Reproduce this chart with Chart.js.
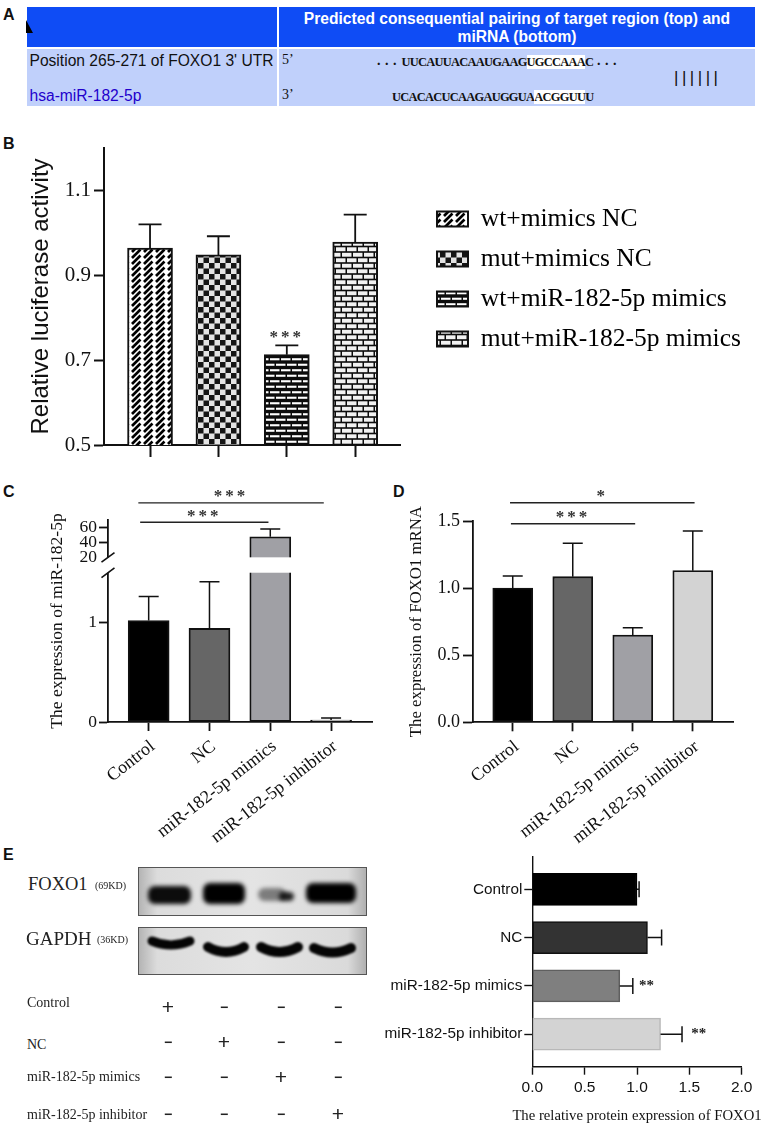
<!DOCTYPE html>
<html>
<head>
<meta charset="utf-8">
<title>FOXO1 / miR-182-5p</title>
<script src="https://cdn.jsdelivr.net/npm/chart.js@4/dist/chart.umd.min.js"></script>
<style>
  html, body { margin: 0; padding: 0; background: #fff; }
  #page { position: relative; width: 765px; height: 1128px; overflow: hidden; font-family: "Liberation Serif", serif; }
  #page canvas { position: absolute; }
  .t { position: absolute; white-space: nowrap; line-height: 1; }
  .letter { font: bold 16px "Liberation Sans", sans-serif; color: #111; }
  .band { position: absolute; }
  .sans { font-family: "Liberation Sans", sans-serif; }
  .seq { font: bold 12.4px "Liberation Serif", serif; letter-spacing: -0.7px; color: #111; }
  .dots { font: bold 14px "Liberation Serif", serif; letter-spacing: 4.5px; color: #111; }
  .seq span { background: #fff; }
  .blot { border: 1px solid #555; box-sizing: border-box; }
</style>
</head>
<body>
<div id="page">
  <!-- panel A -->
  <div class="t letter" style="left:3px;top:6px">A</div>
  <div class="band" style="left:26.5px;top:7px;width:250px;height:40px;background:#0f4cf5"></div>
  <div class="band" style="left:279px;top:7px;width:476px;height:40px;background:#0f4cf5"></div>
  <div class="band" style="left:26.5px;top:49px;width:250px;height:57px;background:#c0d0fb"></div>
  <div class="band" style="left:279px;top:49px;width:476px;height:57px;background:#c0d0fb"></div>
  <div class="band" style="left:26px;top:20px;width:0;height:0;border-bottom:13px solid #000;border-right:7px solid transparent"></div>
  <div class="t sans" style="left:279px;width:476px;top:10px;text-align:center;color:#fff;font-weight:bold;font-size:15.6px;line-height:18px;white-space:normal">Predicted consequential pairing of target region (top) and<br>miRNA (bottom)</div>
  <div class="t sans" style="left:29.5px;top:52.5px;font-size:15.6px;color:#111">Position 265-271 of FOXO1 3' UTR</div>
  <div class="t sans" style="left:29.5px;top:87.5px;font-size:15.6px;color:#2200cc">hsa-miR-182-5p</div>
  <div class="t" style="left:282px;top:53px;font-size:14px;color:#111">5’</div>
  <div class="t" style="left:282px;top:88px;font-size:14px;color:#111">3’</div>
  <div class="t dots" style="left:377px;top:53px">...</div>
  <div class="t seq" style="left:401.5px;top:55px">UUCAUUACAAUGAAG<span>UGCCAAA</span>C</div>
  <div class="t dots" style="left:597px;top:53px">...</div>
  <div class="t seq" style="left:392px;top:90px">UCACACUCAAGAUGGUA<span>ACGGUU</span>U</div>
  <div class="t" style="left:674px;top:69px;font-size:17px;letter-spacing:3.5px;font-family:'Liberation Sans';color:#111">||||||</div>

  <div class="t letter" style="left:3px;top:135px">B</div>
  <div class="t letter" style="left:3px;top:483px">C</div>
  <div class="t letter" style="left:393px;top:483px">D</div>
  <div class="t letter" style="left:3px;top:846px">E</div>

  <canvas id="chartB" style="left:0;top:120px" width="765" height="345"></canvas>
  <canvas id="chartC" style="left:0;top:480px" width="385" height="375"></canvas>
  <canvas id="chartD" style="left:385px;top:480px" width="380" height="375"></canvas>
  <canvas id="chartE" style="left:380px;top:830px" width="385" height="298"></canvas>
  <div class="t" style="left:380px;width:514px;top:1108px;font-size:14.7px;color:#111;text-align:center">The relative protein expression of FOXO1</div>

  <!-- panel E, blot -->
  <canvas id="blotFoxo" class="blot" style="left:138px;top:867px" width="227" height="47"></canvas>
  <canvas id="blotGapdh" class="blot" style="left:138px;top:927px" width="227" height="46"></canvas>
  <div class="t" style="left:28px;top:875px;font-size:18.5px;color:#222">FOXO1</div>
  <div class="t" style="left:95px;top:881px;font-size:10px;color:#222">(69KD)</div>
  <div class="t" style="left:26px;top:929px;font-size:19px;color:#222">GAPDH</div>
  <div class="t" style="left:97px;top:935px;font-size:10px;color:#222">(36KD)</div>
  <div id="matrix"></div>
</div>

<script>
const serif = "'Liberation Serif', serif";
const sans = "'Liberation Sans', sans-serif";

// panel B
const lucCategories = ["wt+mimics NC", "mut+mimics NC", "wt+miR-182-5p mimics", "mut+miR-182-5p mimics"];
const lucValues = [0.964, 0.948, 0.713, 0.978];
const lucErrors = [1.02, 0.992, 0.735, 1.043];
const lucTicks = [0.5, 0.7, 0.9, 1.1];

// panel C
const groups = ["Control", "NC", "miR-182-5p mimics", "miR-182-5p inhibitor"];
const mirValues = [1.02, 0.94, 47.5, 0.02];
const mirErrors = [1.26, 1.41, 58, 0.04];
const mirTicks = [0, 1, 20, 40, 60];

// panel D
const mrnaValues = [1.0, 1.085, 0.65, 1.13];
const mrnaErrors = [1.09, 1.335, 0.705, 1.425];
const mrnaTicks = [0, 0.5, 1, 1.5];

// panel E
const proteinValues = [1.0, 1.1, 0.835, 1.225];
const proteinErrors = [1.02, 1.235, 0.96, 1.43];
const proteinTicks = [0, 0.5, 1, 1.5, 2];

const grays = ["#000000", "#666666", "#a0a0a5", "#d3d3d3"];
const proteinGrays = ["#000000", "#333333", "#7f7f7f", "#d3d3d3"];
const proteinBorders = ["#000000", "#111111", "#5f5f5f", "#b8b8b8"];

// significance lines: from / to in group positions, value on the y axis
const lucSig = [{ from: 3, to: 3, value: 0.735, label: "***" }];
const mirSig = [
  { from: 0.86, to: 2.97, value: 67, label: "***" },
  { from: 0.83, to: 3.88, value: 93, label: "***" },
];
const mrnaSig = [
  { from: 0.97, to: 3.04, value: 1.48, label: "***" },
  { from: 0.955, to: 4.03, value: 1.636, label: "*" },
];
const proteinStars = [
  { x: 1.09, row: 3, label: "**" },
  { x: 1.59, row: 4, label: "**" },
];

// blot table, true = "+"
const matrixRows = ["Control", "NC", "miR-182-5p mimics", "miR-182-5p inhibitor"];
const matrixSigns = [
  [true, false, false, false],
  [false, true, false, false],
  [false, false, true, false],
  [false, false, false, true],
];

function crearPatron(w, h, dibujar) {
  const c = document.createElement("canvas");
  c.width = w;
  c.height = h;
  dibujar(c.getContext("2d"));
  return c.getContext("2d").createPattern(c, "repeat");
}

function ladrillos(ctx, alto, color) {
  ctx.fillStyle = "#0c0c0c";
  ctx.fillRect(0, 0, 22, 11);
  ctx.fillStyle = color;
  const y1 = (5.5 - alto) / 2;
  ctx.fillRect(1, y1, 9.5, alto);
  ctx.fillRect(12, y1, 9.5, alto);
  ctx.fillRect(0, y1 + 5.5, 4.5, alto);
  ctx.fillRect(6, y1 + 5.5, 9.5, alto);
  ctx.fillRect(17, y1 + 5.5, 5, alto);
}

const patterns = [
  crearPatron(12, 12, (ctx) => {
    ctx.fillStyle = "#fff";
    ctx.fillRect(0, 0, 12, 12);
    ctx.strokeStyle = "#000";
    ctx.lineWidth = 2.7;
    ctx.setLineDash([12, 4.97]);
    [-12, -6, 0, 6, 12].forEach((c, i) => {
      ctx.lineDashOffset = i % 2 ? 8.5 : 0;
      ctx.beginPath();
      ctx.moveTo(-12 + c, 24);
      ctx.lineTo(24 + c, -12);
      ctx.stroke();
    });
  }),
  crearPatron(11, 11, (ctx) => {
    ctx.fillStyle = "#e4e4e4";
    ctx.fillRect(0, 0, 11, 11);
    ctx.fillStyle = "#151515";
    ctx.fillRect(0, 0, 5.5, 5.5);
    ctx.fillRect(5.5, 5.5, 5.5, 5.5);
  }),
  crearPatron(22, 11, (ctx) => ladrillos(ctx, 2.1, "#ffffff")),
  crearPatron(22, 11, (ctx) => ladrillos(ctx, 3.9, "#f2f2f2")),
];

function pluginErrores(errores, values, tapa, ancho, horizontal) {
  return {
    id: "errores",
    afterDatasetsDraw(chart) {
      const ctx = chart.ctx;
      const valueScale = horizontal ? chart.scales.x : chart.scales.y;
      const indexScale = horizontal ? chart.scales.y : chart.scales.x;
      ctx.save();
      ctx.strokeStyle = "#111";
      ctx.lineWidth = ancho;
      errores.forEach((err, i) => {
        const p = indexScale.getPixelForValue(i + 1);
        const a = valueScale.getPixelForValue(values[i]);
        const b = valueScale.getPixelForValue(err);
        ctx.beginPath();
        if (horizontal) {
          ctx.moveTo(a, p);
          ctx.lineTo(b, p);
          ctx.moveTo(b, p - tapa / 2);
          ctx.lineTo(b, p + tapa / 2);
        } else {
          ctx.moveTo(p, a);
          ctx.lineTo(p, b);
          ctx.moveTo(p - tapa / 2, b);
          ctx.lineTo(p + tapa / 2, b);
        }
        ctx.stroke();
      });
      ctx.restore();
    },
  };
}

function pluginSignificancia(lineas, fuente, subir) {
  return {
    id: "significancia",
    afterDraw(chart) {
      const ctx = chart.ctx;
      ctx.save();
      lineas.forEach((l) => {
        const y = chart.scales.y.getPixelForValue(l.value);
        const x1 = chart.scales.x.getPixelForValue(l.from);
        const x2 = chart.scales.x.getPixelForValue(l.to);
        if (l.from !== l.to) {
          ctx.strokeStyle = "#222";
          ctx.lineWidth = 1.4;
          ctx.beginPath();
          ctx.moveTo(x1, y);
          ctx.lineTo(x2, y);
          ctx.stroke();
        }
        ctx.fillStyle = "#333";
        ctx.font = fuente;
        ctx.letterSpacing = "3px";
        ctx.textAlign = "center";
        ctx.textBaseline = "middle";
        ctx.fillText(l.label, (x1 + x2) / 2, y - subir);
      });
      ctx.restore();
    },
  };
}

// y scale with a jump between lowMax and highMin
class BrokenScale extends Chart.LinearScale {
  getPixelForValue(value) {
    const { lowMax, highMin, lowPart, gapPart } = this.options.corte;
    let d;
    if (value <= lowMax) {
      d = (value / lowMax) * lowPart;
    } else if (value >= highMin) {
      d = lowPart + gapPart + ((value - highMin) / (this.max - highMin)) * (1 - lowPart - gapPart);
    } else {
      d = lowPart + ((value - lowMax) / (highMin - lowMax)) * gapPart;
    }
    return this.getPixelForDecimal(d);
  }
}
BrokenScale.id = "broken";
BrokenScale.defaults = {};
Chart.register(BrokenScale);

const pluginCorte = {
  id: "corte",
  afterDatasetsDraw(chart) {
    const ctx = chart.ctx;
    const y = chart.scales.y;
    const corte = y.options.corte;
    const yBajo = y.getPixelForValue(corte.lowMax);
    const yAlto = y.getPixelForValue(corte.highMin);
    const x0 = chart.chartArea.left;
    ctx.save();
    ctx.fillStyle = "#fff";
    ctx.fillRect(x0 - 2, yAlto, chart.chartArea.width, yBajo - yAlto);
    ctx.strokeStyle = "#111";
    ctx.lineWidth = 1.6;
    [yBajo, yAlto].forEach((py) => {
      ctx.beginPath();
      ctx.moveTo(x0 - 6.5, py + 4.8);
      ctx.lineTo(x0 + 6.5, py - 4.8);
      ctx.stroke();
    });
    ctx.restore();
  },
};

// the axes get a fixed box, so the plot area lands where the figure has it
function escalaBase(lineWidth, tickLength, tickFont, ticks, caja) {
  return {
    offset: false,
    border: { color: "#111", width: lineWidth },
    grid: { offset: false, drawOnChartArea: false, tickColor: "#111", tickWidth: lineWidth, tickLength },
    ticks: { color: "#111", font: tickFont, autoSkip: false },
    afterBuildTicks: (s) => {
      s.ticks = ticks.map((v) => ({ value: v }));
    },
    afterFit: caja,
  };
}

function graficoBarras(id, box, plot, cfg) {
  const indices = cfg.values.map((_, i) => i + 1);
  const xEscala = escalaBase(cfg.lineWidth, cfg.tickLength, cfg.xFont, indices, (s) => {
    s.height = box.bottom - plot.bottom;
  });
  xEscala.type = "linear";
  xEscala.min = cfg.xMin;
  xEscala.max = cfg.xMax;
  xEscala.ticks.padding = cfg.xPadding;
  if (cfg.xLabels) {
    xEscala.ticks.callback = (v) => cfg.xLabels[v - 1];
    xEscala.ticks.minRotation = cfg.rotation;
    xEscala.ticks.maxRotation = cfg.rotation;
    xEscala.ticks.labelOffset = 4;
  } else {
    xEscala.ticks.display = false;
  }

  const yEscala = escalaBase(cfg.lineWidth, cfg.yTickLength || cfg.tickLength, cfg.yFont, cfg.ticks, (s) => {
    s.width = plot.left - box.left;
  });
  yEscala.type = cfg.yType || "linear";
  yEscala.min = cfg.yMin;
  yEscala.max = cfg.yMax;
  yEscala.ticks.padding = cfg.yPadding;
  yEscala.ticks.callback = cfg.yFormat;
  yEscala.title = cfg.yTitle;
  if (cfg.corte) {
    yEscala.corte = cfg.corte;
    yEscala.grid.tickColor = (c) => (c.tick && c.tick.value === cfg.corte.highMin ? "rgba(0,0,0,0)" : "#111");
  }

  return new Chart(document.getElementById(id), {
    type: "bar",
    data: {
      datasets: [{
        data: cfg.values.map((v, i) => ({ x: i + 1, y: v })),
        backgroundColor: cfg.fills,
        borderColor: "#111",
        borderWidth: cfg.lineWidth,
        borderSkipped: false,
        barThickness: cfg.barWidth,
      }],
    },
    options: {
      responsive: false,
      animation: false,
      devicePixelRatio: 1,
      layout: {
        padding: { left: 0, top: plot.top - box.top, right: box.right - plot.right, bottom: 0 },
      },
      plugins: { legend: cfg.legend || { display: false }, tooltip: { enabled: false } },
      scales: { x: xEscala, y: yEscala },
    },
    plugins: cfg.plugins,
  });
}

// panel B keeps its legend to the right of the plot
const pluginLeyenda = {
  id: "leyendaB",
  afterLayout(chart) {
    const l = chart.legend;
    l.left = 422.5;
    l.right = 765;
    l.top = 59;
    l.bottom = 259;
  },
};

graficoBarras("chartB", { left: 0, top: 120, right: 765, bottom: 465 }, { left: 104, top: 148, right: 400, bottom: 445 }, {
  values: lucValues,
  fills: patterns,
  ticks: lucTicks,
  xMin: 0.327,
  xMax: 4.655,
  yMin: 0.5,
  yMax: 1.2,
  lineWidth: 2,
  tickLength: 12,
  yTickLength: 10,
  barWidth: 45,
  yFont: { family: serif, size: 21 },
  yPadding: 3,
  xPadding: 0,
  yFormat: (v) => v.toFixed(1),
  yTitle: { display: true, text: "Relative luciferase activity", color: "#111", font: { family: sans, size: 24 }, padding: { top: 27, bottom: 0 } },
  legend: {
    position: "chartArea",
    labels: {
      boxWidth: 31,
      boxHeight: 15,
      padding: 14.5,
      color: "#111",
      font: { family: serif, size: 25.5 },
      generateLabels: () => lucCategories.map((name, i) => ({
        text: name,
        fillStyle: patterns[i],
        strokeStyle: "#111",
        lineWidth: 2,
        hidden: false,
      })),
    },
  },
  plugins: [pluginLeyenda, pluginErrores(lucErrors, lucValues, 23, 1.8, false), pluginSignificancia(lucSig, "bold 17px " + serif, 8)],
});

graficoBarras("chartC", { left: 0, top: 480, right: 385, bottom: 855 }, { left: 108, top: 520, right: 372, bottom: 722 }, {
  values: mirValues,
  fills: grays,
  ticks: mirTicks,
  xLabels: groups,
  rotation: 38,
  xMin: 0.331,
  xMax: 4.673,
  yMin: 0,
  yMax: 70,
  yType: "broken",
  corte: { lowMax: 1.5, highMin: 20, lowPart: 0.739, gapPart: 0.0762 },
  lineWidth: 1.8,
  tickLength: 9,
  barWidth: 41,
  xFont: { family: serif, size: 18 },
  yFont: { family: serif, size: 17.5 },
  yPadding: 2,
  xPadding: 5,
  yFormat: (v) => String(v),
  yTitle: { display: true, text: "The expression of miR-182-5p", color: "#111", font: { family: serif, size: 17.5 }, padding: { top: 47, bottom: 0 } },
  plugins: [pluginErrores(mirErrors, mirValues, 20, 1.5, false), pluginCorte, pluginSignificancia(mirSig, "bold 17px " + serif, 6)],
});

graficoBarras("chartD", { left: 385, top: 480, right: 765, bottom: 855 }, { left: 473, top: 521, right: 733, bottom: 722.3 }, {
  values: mrnaValues,
  fills: grays,
  ticks: mrnaTicks,
  xLabels: groups,
  rotation: 38,
  xMin: 0.338,
  xMax: 4.67,
  yMin: 0,
  yMax: 1.5,
  lineWidth: 1.8,
  tickLength: 9,
  yTickLength: 10,
  barWidth: 40,
  xFont: { family: serif, size: 18 },
  yFont: { family: serif, size: 18 },
  yPadding: 3,
  xPadding: 5,
  yFormat: (v) => v.toFixed(1),
  yTitle: { display: true, text: "The expression of FOXO1 mRNA", color: "#111", font: { family: serif, size: 16.8 }, padding: { top: 22, bottom: 0 } },
  plugins: [pluginErrores(mrnaErrors, mrnaValues, 20, 1.5, false), pluginSignificancia(mrnaSig, "bold 17px " + serif, 6)],
});

// panel E is horizontal, so it does not go through graficoBarras
new Chart(document.getElementById("chartE"), {
  type: "bar",
  data: {
    datasets: [{
      data: proteinValues.map((v, i) => ({ x: v, y: i + 1 })),
      backgroundColor: proteinGrays,
      borderColor: proteinBorders,
      borderWidth: 1.5,
      borderSkipped: false,
      barThickness: 32,
    }],
  },
  options: {
    indexAxis: "y",
    responsive: false,
    animation: false,
    devicePixelRatio: 1,
    layout: { padding: { left: 0, top: 27, right: 23.3, bottom: 0 } },
    plugins: { legend: { display: false }, tooltip: { enabled: false } },
    scales: {
      x: {
        type: "linear",
        min: 0,
        max: 2,
        offset: false,
        border: { color: "#111", width: 1.4 },
        grid: { offset: false, drawOnChartArea: false, tickColor: "#111", tickWidth: 1.4, tickLength: 8 },
        ticks: { color: "#111", font: { family: sans, size: 15.5 }, padding: 4, callback: (v) => v.toFixed(1) },
        afterBuildTicks: (s) => {
          s.ticks = proteinTicks.map((v) => ({ value: v }));
        },
        afterFit: (s) => {
          s.height = 61.3;
        },
      },
      y: {
        type: "linear",
        reverse: true,
        min: 0.331,
        max: 4.673,
        offset: false,
        border: { color: "#111", width: 1.4 },
        grid: { offset: false, drawOnChartArea: false, tickColor: "#111", tickWidth: 1.4, tickLength: 8 },
        ticks: { color: "#111", font: { family: sans, size: 15.3 }, padding: 2, autoSkip: false, callback: (v) => groups[v - 1] },
        afterBuildTicks: (s) => {
          s.ticks = groups.map((_, i) => ({ value: i + 1 }));
        },
        afterFit: (s) => {
          s.width = 152.3;
        },
      },
    },
  },
  plugins: [
    pluginErrores(proteinErrors, proteinValues, 16, 1.5, true),
    {
      id: "estrellasE",
      afterDraw(chart) {
        const ctx = chart.ctx;
        ctx.save();
        ctx.fillStyle = "#222";
        ctx.font = "bold 15px " + serif;
        ctx.textAlign = "center";
        ctx.textBaseline = "middle";
        proteinStars.forEach((s) => {
          ctx.fillText(s.label, chart.scales.x.getPixelForValue(s.x), chart.scales.y.getPixelForValue(s.row));
        });
        ctx.restore();
      },
    },
  ],
});

// blot pictures, not data
function fondoBlot(ctx, w, h) {
  const g = ctx.createLinearGradient(0, 0, w, 0);
  g.addColorStop(0, "#b4b4b4");
  g.addColorStop(0.08, "#dcdcdc");
  g.addColorStop(0.5, "#e4e4e4");
  g.addColorStop(0.92, "#dadada");
  g.addColorStop(1, "#b0b0b0");
  ctx.fillStyle = g;
  ctx.fillRect(0, 0, w, h);
}

function manchaFoxo(ctx, x, y, w, h, alpha) {
  ctx.save();
  ctx.filter = "blur(2px)";
  ctx.fillStyle = "rgba(0,0,0," + alpha + ")";
  ctx.beginPath();
  ctx.roundRect(x, y, w, h, 7);
  ctx.fill();
  ctx.restore();
}

function bandaGapdh(ctx, x1, x2, y, curva, grosor) {
  ctx.save();
  ctx.filter = "blur(1.2px)";
  ctx.strokeStyle = "#050505";
  ctx.lineWidth = grosor;
  ctx.lineCap = "round";
  ctx.beginPath();
  ctx.moveTo(x1, y);
  ctx.quadraticCurveTo((x1 + x2) / 2, y + curva, x2, y);
  ctx.stroke();
  ctx.restore();
}

const foxo = document.getElementById("blotFoxo").getContext("2d");
fondoBlot(foxo, 227, 47);
manchaFoxo(foxo, 9, 18, 43, 18, 0.95);
manchaFoxo(foxo, 64, 15, 42, 21, 1);
manchaFoxo(foxo, 119, 20, 28, 13, 0.45);
manchaFoxo(foxo, 140, 24, 15, 9, 0.85);
manchaFoxo(foxo, 167, 15, 50, 20, 1);

const gapdh = document.getElementById("blotGapdh").getContext("2d");
fondoBlot(gapdh, 227, 46);
bandaGapdh(gapdh, 13, 51, 13, 8, 9);
bandaGapdh(gapdh, 69, 105, 19, 10, 10);
bandaGapdh(gapdh, 122, 159, 19, 10, 10);
bandaGapdh(gapdh, 175, 212, 20, 9, 10);

// table under the blot
const matrix = document.getElementById("matrix");
const filasY = [1003, 1045, 1077, 1115];
const signoY = [1007, 1042, 1077, 1114];
const columnasX = [168, 224, 281, 338];
matrixRows.forEach((nombre, r) => {
  const fila = document.createElement("div");
  fila.className = "t";
  fila.style.cssText = "left:27px;top:" + (filasY[r] - 7) + "px;font-size:14px;color:#222";
  fila.textContent = nombre;
  matrix.appendChild(fila);
  matrixSigns[r].forEach((mas, c) => {
    const s = document.createElement("div");
    s.className = "t sans";
    const estilo = mas ? "font-size:21px;font-weight:normal" : "font-size:14px;font-weight:bold";
    s.style.cssText = "left:" + (columnasX[c] - 10) + "px;width:20px;text-align:center;top:" + (signoY[r] - 10) + "px;line-height:20px;color:#222;" + estilo;
    s.textContent = mas ? "+" : "−";
    matrix.appendChild(s);
  });
});
</script>
</body>
</html>
